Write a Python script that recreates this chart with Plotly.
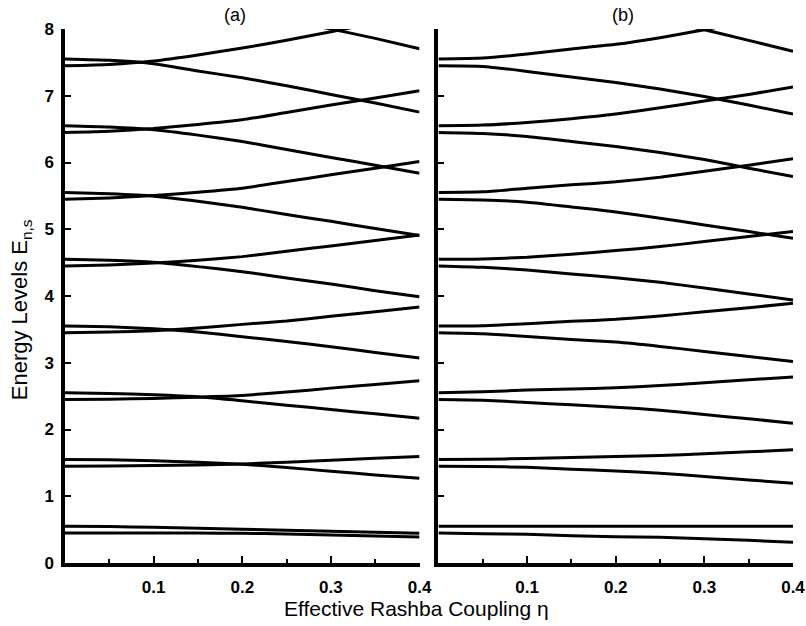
import plotly.graph_objects as go

# Effective Rashba coupling values at which levels were read
eta = [0.0, 0.05, 0.10, 0.15, 0.20, 0.25, 0.30, 0.35, 0.40]

# Panel (a): branches starting at n+0.55 (falling) and n+0.45 (rising), n = 0..8
a_falling = [
    [0.55, 0.545, 0.535, 0.52, 0.505, 0.49, 0.475, 0.46, 0.445],
    [1.55, 1.545, 1.53, 1.51, 1.48, 1.43, 1.375, 1.32, 1.27],
    [2.55, 2.54, 2.52, 2.49, 2.43, 2.365, 2.30, 2.235, 2.17],
    [3.55, 3.54, 3.51, 3.46, 3.39, 3.32, 3.24, 3.155, 3.07],
    [4.55, 4.535, 4.505, 4.44, 4.365, 4.27, 4.18, 4.08, 3.99],
    [5.55, 5.53, 5.495, 5.42, 5.33, 5.22, 5.12, 5.01, 4.905],
    [6.55, 6.53, 6.49, 6.41, 6.315, 6.195, 6.075, 5.96, 5.84],
    [7.55, 7.53, 7.48, 7.37, 7.27, 7.15, 7.02, 6.89, 6.755],
    [8.55, 8.53, 8.47, 8.37, 8.26, 8.13, 8.0, 7.86, 7.705],
]
a_rising = [
    [0.45, 0.45, 0.45, 0.448, 0.445, 0.435, 0.42, 0.405, 0.39],
    [1.45, 1.455, 1.46, 1.47, 1.485, 1.51, 1.54, 1.57, 1.595],
    [2.45, 2.455, 2.465, 2.485, 2.51, 2.56, 2.62, 2.675, 2.73],
    [3.45, 3.46, 3.48, 3.52, 3.575, 3.625, 3.695, 3.765, 3.835],
    [4.45, 4.465, 4.495, 4.535, 4.59, 4.67, 4.75, 4.83, 4.915],
    [5.45, 5.47, 5.505, 5.555, 5.615, 5.715, 5.815, 5.915, 6.015],
    [6.45, 6.47, 6.51, 6.57, 6.64, 6.75, 6.86, 6.965, 7.075],
    [7.45, 7.47, 7.52, 7.61, 7.715, 7.83, 7.96, 8.09, 8.22],
]

# Panel (b): branches starting at n+0.55 (rising) and n+0.45 (falling)
b_rising = [
    [0.55, 0.55, 0.55, 0.55, 0.55, 0.55, 0.55, 0.55, 0.55],
    [1.55, 1.555, 1.565, 1.58, 1.595, 1.61, 1.635, 1.665, 1.695],
    [2.55, 2.565, 2.59, 2.605, 2.625, 2.66, 2.70, 2.745, 2.785],
    [3.55, 3.555, 3.585, 3.62, 3.65, 3.70, 3.765, 3.825, 3.89],
    [4.55, 4.555, 4.58, 4.625, 4.68, 4.74, 4.815, 4.89, 4.965],
    [5.55, 5.56, 5.615, 5.665, 5.71, 5.78, 5.87, 5.96, 6.055],
    [6.55, 6.56, 6.60, 6.655, 6.725, 6.82, 6.92, 7.02, 7.13],
    [7.55, 7.565, 7.625, 7.70, 7.77, 7.87, 7.99, 8.11, 8.23],
]
b_falling = [
    [0.45, 0.44, 0.43, 0.41, 0.395, 0.385, 0.365, 0.34, 0.31],
    [1.45, 1.445, 1.435, 1.405, 1.38, 1.345, 1.295, 1.245, 1.195],
    [2.45, 2.44, 2.405, 2.37, 2.335, 2.29, 2.225, 2.16, 2.095],
    [3.45, 3.435, 3.395, 3.35, 3.31, 3.245, 3.17, 3.095, 3.02],
    [4.45, 4.43, 4.39, 4.33, 4.275, 4.205, 4.12, 4.03, 3.94],
    [5.45, 5.44, 5.405, 5.335, 5.26, 5.165, 5.065, 4.965, 4.865],
    [6.45, 6.435, 6.39, 6.315, 6.24, 6.15, 6.045, 5.915, 5.79],
    [7.45, 7.44, 7.365, 7.28, 7.20, 7.10, 6.99, 6.86, 6.725],
    [8.55, 8.52, 8.47, 8.39, 8.27, 8.13, 7.99, 7.83, 7.665],
]

x_ticks = [0.1, 0.2, 0.3, 0.4]
x_tick_labels = ["0.1", "0.2", "0.3", "0.4"]
x_minor = [0.05, 0.15, 0.25, 0.35]
y_ticks = [0, 1, 2, 3, 4, 5, 6, 7, 8]

fig = go.Figure()
line = dict(color="black", width=3, shape="spline", smoothing=0.5)

for series in a_falling + a_rising:
    fig.add_trace(go.Scatter(x=eta, y=series, mode="lines", line=line,
                             xaxis="x", yaxis="y", showlegend=False, hoverinfo="skip"))
for series in b_rising + b_falling:
    fig.add_trace(go.Scatter(x=eta, y=series, mode="lines", line=line,
                             xaxis="x2", yaxis="y2", showlegend=False, hoverinfo="skip"))

tickfont = dict(family="Liberation Sans, Arial, sans-serif", size=17, color="black", weight="bold")

def xaxis_cfg(domain, anchor):
    return dict(domain=domain, anchor=anchor, range=[0, 0.4], automargin=False,
                tickvals=x_ticks, ticktext=x_tick_labels,
                ticks="inside", ticklen=7, tickwidth=2, tickcolor="black",
                showline=True, linewidth=3.5, linecolor="black",
                showgrid=False, zeroline=False, tickfont=tickfont,
                ticklabelstandoff=6,
                minor=dict(tickvals=x_minor, ticks="inside", ticklen=4,
                           tickwidth=2, tickcolor="black", showgrid=False))

def yaxis_cfg(anchor, labels):
    return dict(anchor=anchor, range=[0, 8], tickvals=y_ticks, automargin=False,
                ticks="inside", ticklen=6, tickwidth=2, tickcolor="black",
                showline=True, linewidth=3.5, linecolor="black",
                showgrid=False, zeroline=False, tickfont=tickfont,
                showticklabels=labels, ticklabelstandoff=4)

fig.update_layout(
    width=806, height=626, autosize=False,
    margin=dict(l=65, r=13, t=29, b=63),
    paper_bgcolor="white", plot_bgcolor="white",
    font=dict(family="Liberation Sans, Arial, sans-serif", color="black"),
    xaxis=xaxis_cfg([0, 0.487], "y"),
    yaxis=yaxis_cfg("x", True),
    xaxis2=xaxis_cfg([0.513, 1.0], "y2"),
    yaxis2=yaxis_cfg("x2", False),
    annotations=[
        dict(text="(a)", x=0.233, y=1.027, xref="paper", yref="paper",
             showarrow=False, font=dict(size=18), xanchor="center", yanchor="middle"),
        dict(text="(b)", x=0.767, y=1.027, xref="paper", yref="paper",
             showarrow=False, font=dict(size=18), xanchor="center", yanchor="middle"),
        dict(text="Effective Rashba Coupling η", x=0.483, y=-0.085,
             xref="paper", yref="paper", showarrow=False,
             font=dict(size=21), xanchor="center", yanchor="middle"),
        dict(text="Energy Levels E<sub>n,s</sub>", x=-0.060, y=0.474,
             xref="paper", yref="paper", showarrow=False, textangle=-90,
             font=dict(size=22), xanchor="center", yanchor="middle"),
    ],
)

fig.write_html("out.html",
               config={"responsive": False, "displayModeBar": False},
               post_script="document.body.style.margin='0';document.body.style.overflow='hidden';")
